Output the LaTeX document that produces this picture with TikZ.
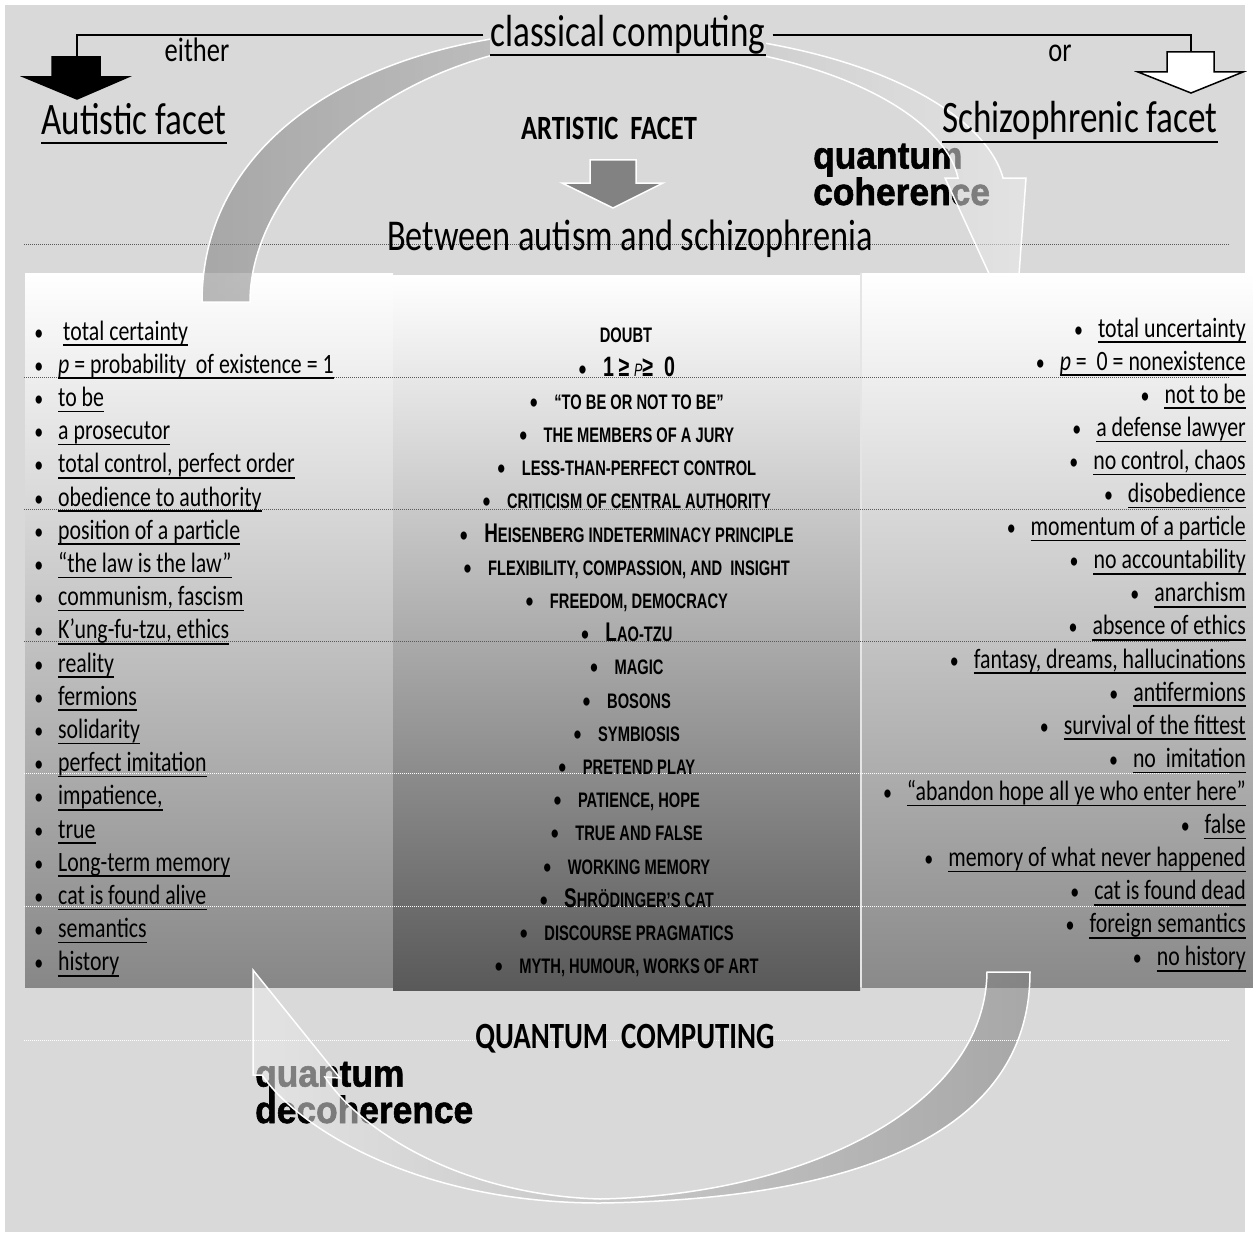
\documentclass[tikz,border=0pt]{standalone}
\usepackage{fontspec}
\setmainfont{Carlito}[FakeStretch=0.78]
\newfontfamily\capsfont{Liberation Sans}[FakeStretch=0.7]
\newfontfamily\heavyfont{Liberation Sans}[FakeStretch=0.93,FakeBold=1.5]
\usetikzlibrary{shadings}
\definecolor{bg}{HTML}{D9D9D9}
\newcommand{\initial}[1]{{\fontsize{27}{27}\selectfont #1}}
\newcommand{\dotmark}[1]{\llap{{\normalfont\fontsize{23}{23}\selectfont •}\hspace{#1}}}

\begin{document}
\begin{tikzpicture}[x=1pt, y=-1pt,
	listitem/.style={inner sep=0pt, font=\fontsize{28}{28}\selectfont},
	leftitem/.style={listitem, anchor=base west},
	rightitem/.style={listitem, anchor=base east},
	capsitem/.style={inner sep=0pt, anchor=base, font=\capsfont\bfseries\fontsize{21}{21}\selectfont},
	title/.style={inner sep=0pt, anchor=base, font=\fontsize{45}{45}\selectfont},
	heavy/.style={inner sep=0pt, anchor=base west, align=left, font=\heavyfont\bfseries\fontsize{38}{30}\selectfont},
	uline/.style={line width=1.6pt},
	tline/.style={line width=2.2pt},
	conn/.style={line width=2.5pt},
	gridline/.style={dash pattern=on 1pt off 1pt, line width=1pt, gray!70!black},
	whitegrid/.style={gridline, white},
	blockarrow/.style={line width=1.5pt},
	swoosh/.style={draw=white, line width=1.5pt, fill opacity=0.55}]
	\useasboundingbox (0,0) rectangle (1253,1236);
	\fill[white] (0,0) rectangle (1253,1236);
	\fill[bg] (5,5) rectangle (1245,1232);
	\draw[gridline] (24,244) -- (1230,244);
	% Headings
	\node[title] (autistic) at (134,135) {Autistic facet};
	\draw[tline] ([yshift=-8pt]autistic.base west) -- ([yshift=-8pt]autistic.base east);
	\node[title, font=\fontsize{44}{44}\selectfont] (between) at (630,250) {Between autism and schizophrenia};
	\node[inner sep=0pt, anchor=base, font=\fontsize{34}{34}\selectfont] (either) at (197,62) {either};
	\node[inner sep=0pt, anchor=base, font=\fontsize{34}{34}\selectfont] (ortext) at (1060,62) {or};
	\node[inner sep=0pt, anchor=base, font=\bfseries\fontsize{34}{34}\selectfont] (artistic) at (609,140) {ARTISTIC\ \ FACET};
	% base of a two-line node is its last line
	\node[heavy] (qcoh) at (813,205) {quantum\\coherence};
	% Left panel, then the upper swoosh
	\fill[top color=white, middle color=gray!32, bottom color=gray!94] (25,273) rectangle (393,987);
	\path[swoosh, left color=gray, right color=gray!15] (202,302) .. controls (202,130) and (380,30) .. (603,30) .. controls (850,30) and (985,110) .. (1003,178) -- (1026,178) -- (1015,330) -- (945,178) -- (958,178) .. controls (945,115) and (820,40) .. (603,40) .. controls (400,42) and (250,180) .. (250,302) -- cycle;
	\node[title, fill=bg, inner ysep=3pt] (classical) at (628,47) {classical computing};
	\draw[tline] ([yshift=-8pt]classical.base west) -- ([yshift=-8pt]classical.base east);
	\node[title] (schizo) at (1080,133) {Schizophrenic facet};
	\draw[tline] ([yshift=-9pt]schizo.base west) -- ([yshift=-9pt]schizo.base east);
	% Either / or
	\coordinate (autin) at (77,57);
	\coordinate (schin) at (1191,52);
	\draw[conn, shorten <=7pt] (classical.west) -| (autin);
	\draw[conn, shorten <=7pt] (classical.east) -| (schin);
	\draw[blockarrow, fill=black] (52,57) -- (100,57) -- (100,77) -- (128,77) -- (77,99) -- (24,77) -- (52,77) -- cycle;
	\draw[blockarrow, fill=white] (1167,52) -- (1214,52) -- (1214,72) -- (1243,72) -- (1191,93) -- (1138,72) -- (1167,72) -- cycle;
	\draw[blockarrow, draw=white, fill=gray!98] (590,160) -- (636,160) -- (636,183) -- (663,183) -- (613,208) -- (562,183) -- (590,183) -- cycle;
	% Center and right panels
	\fill[top color=white, middle color=gray!43, bottom color=black!65] (393,275) rectangle (860,990);
	\fill[top color=white, middle color=gray!34, bottom color=gray!92] (862,273) rectangle (1253,987);
	\draw[gray!20, line width=1.5pt] (861,273) -- (861,987);
	\foreach \y in {377,509,641}
		\draw[gridline] (24,\y) -- (1230,\y);
	\foreach \y in {773,906}
		\draw[whitegrid] (24,\y) -- (1230,\y);
	% Left list
	\foreach \txt [count=\i] in {total certainty, {\textit{p} = probability\ \ of existence = 1}, to be, a prosecutor, {total control, perfect order}, obedience to authority, position of a particle, “the law is the law”, {communism, fascism}, {K’ung-fu-tzu, ethics}, reality, fermions, solidarity, perfect imitation, {impatience,}, true, Long-term memory, cat is found alive, semantics, history} {
		\pgfmathsetmacro{\xo}{\i==1 ? 63 : 58}
		\pgfmathsetmacro{\gap}{\i==1 ? 20 : 15}
		\node[leftitem] (l\i) at (\xo,{340+33.2*(\i-1)}) {\dotmark{\gap pt}\txt};
		\draw[uline] ([yshift=-5pt]l\i.base west) -- ([yshift=-5pt]l\i.base east);
	}
	% Center list
	\node[capsitem] (doubt) at (626,342) {DOUBT};
	\foreach \txt [count=\i] in {{\fontsize{28}{28}\selectfont 1\,≥\,{\mdseries\itshape\fontsize{18}{18}\selectfont P}≥\ \ 0}, “TO BE OR NOT TO BE”, THE MEMBERS OF A JURY, LESS-THAN-PERFECT CONTROL, CRITICISM OF CENTRAL AUTHORITY, \initial{H}EISENBERG INDETERMINACY PRINCIPLE, {FLEXIBILITY, COMPASSION, AND\ \ INSIGHT}, {FREEDOM, DEMOCRACY}, \initial{L}AO-TZU, MAGIC, BOSONS, SYMBIOSIS, PRETEND PLAY, {PATIENCE, HOPE}, TRUE AND FALSE, WORKING MEMORY, \initial{S}HRÖDINGER’S CAT, DISCOURSE PRAGMATICS, {MYTH, HUMOUR, WORKS OF ART}}
		\node[capsitem] (c\i) at (639,{376+33.2*(\i-1)}) {\dotmark{16pt}\txt};
	% Right list
	\foreach \txt [count=\i] in {total uncertainty, {\textit{p} =\ \ 0 = nonexistence}, not to be, a defense lawyer, {no control, chaos}, disobedience, momentum of a particle, no accountability, anarchism, absence of ethics, {fantasy, dreams, hallucinations}, antifermions, survival of the fittest, no\ \ imitation, “abandon hope all ye who enter here”, false, memory of what never happened, cat is found dead, foreign semantics, no history} {
		\node[rightitem] (r\i) at (1246,{337+33.1*(\i-1)}) {\dotmark{15pt}\txt};
		\draw[uline] ([yshift=-5pt]r\i.base west) -- ([yshift=-5pt]r\i.base east);
	}
	% Lower swoosh
	\node[heavy] (qdec) at (255,1123) {quantum\\decoherence};
	\path[swoosh, left color=gray!15, right color=gray] (987,972) -- (1030,972) .. controls (1030,1150) and (820,1200) .. (600,1203) .. controls (420,1203) and (300,1130) .. (262,1075) -- (253,1075) -- (253,970) -- (340,1078) -- (325,1077) .. controls (360,1130) and (460,1195) .. (600,1199) .. controls (800,1195) and (985,1110) .. (987,972) -- cycle;
	\draw[whitegrid] (24,1040) -- (1230,1040);
	\node[inner sep=0pt, anchor=base, font=\bfseries\fontsize{37}{37}\selectfont] (qcomp) at (625,1048) {QUANTUM\ \ COMPUTING};
\end{tikzpicture}
\end{document}
